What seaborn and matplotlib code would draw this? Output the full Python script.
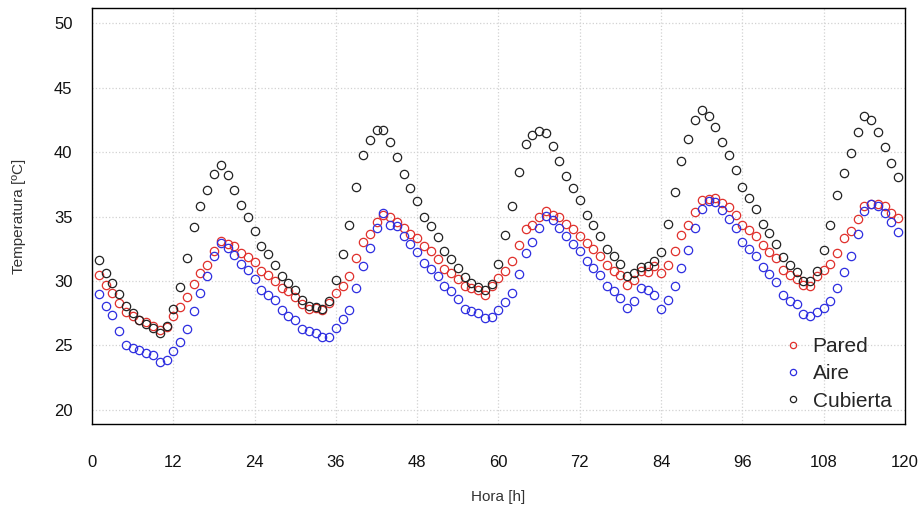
import numpy as np
import pandas as pd
import matplotlib
matplotlib.use("Agg")
import matplotlib.pyplot as plt
import seaborn as sns

hours = list(range(1, 120))

pared = [30.49, 29.71, 29.1, 28.3, 27.63, 27.25, 27.0, 26.8, 26.5, 26.2,
         26.4, 27.3, 28.0, 28.8, 29.79, 30.6, 31.27, 32.35, 33.13, 32.9,
         32.75, 32.2, 31.87, 31.47, 30.78, 30.44, 29.98, 29.46, 29.2, 28.8,
         28.23, 27.82, 27.9, 27.72, 28.3, 29.07, 29.6, 30.36, 31.78, 33.07,
         33.64, 34.57, 35.14, 34.96, 34.55, 34.1, 33.67, 33.34, 32.69, 32.3,
         31.73, 30.93, 30.62, 30.15, 29.59, 29.46, 29.33, 28.94, 29.59, 30.23,
         30.75, 31.53, 32.82, 34.03, 34.37, 35.01, 35.4, 35.14, 34.96, 34.44,
         34.03, 33.5, 32.92, 32.48, 31.95, 31.21, 30.75, 30.44, 29.72, 30.05,
         30.8, 30.67, 31.14, 30.62, 31.27, 32.3, 33.55, 34.33, 35.34, 36.32,
         36.37, 36.45, 36.06, 35.73, 35.16, 34.33, 34.0, 33.47, 32.77, 32.26,
         31.78, 30.88, 30.49, 30.15, 29.71, 29.64, 30.41, 30.88, 31.32, 32.17,
         33.34, 33.91, 34.84, 35.86, 36.01, 36.01, 35.8, 35.28, 34.89]

aire = [29.0, 28.1, 27.4, 26.16, 25.05, 24.8, 24.65, 24.4, 24.27, 23.68,
        23.84, 24.54, 25.3, 26.26, 27.7, 29.1, 30.4, 31.96, 32.94, 32.6,
        32.04, 31.35, 30.88, 30.17, 29.32, 28.94, 28.5, 27.77, 27.26, 26.95,
        26.3, 26.1, 26.0, 25.65, 25.65, 26.34, 27.04, 27.77, 29.46, 31.2,
        32.6, 34.1, 35.27, 34.37, 34.24, 33.52, 32.9, 32.26, 31.38, 30.93,
        30.36, 29.64, 29.2, 28.6, 27.85, 27.69, 27.51, 27.12, 27.2, 27.72,
        28.34, 29.07, 30.54, 32.17, 33.07, 34.1, 35.06, 34.76, 34.1, 33.46,
        32.87, 32.35, 31.55, 31.0, 30.47, 29.59, 29.2, 28.68, 27.9, 28.47,
        29.46, 29.33, 28.94, 27.85, 28.5, 29.59, 31.0, 32.43, 34.1, 35.58,
        36.24, 36.1, 35.5, 34.82, 34.12, 33.03, 32.48, 31.96, 31.06, 30.55,
        29.92, 28.93, 28.47, 28.2, 27.46, 27.25, 27.56, 27.9, 28.49, 29.5,
        30.69, 31.98, 33.63, 35.45, 35.97, 35.84, 35.28, 34.58, 33.8]

cubierta = [31.66, 30.62, 29.84, 28.96, 28.1, 27.5, 27.0, 26.7, 26.35, 25.96,
            26.5, 27.82, 29.53, 31.76, 34.17, 35.8, 37.04, 38.31, 39.0, 38.2,
            37.1, 35.9, 34.94, 33.9, 32.75, 32.1, 31.27, 30.36, 29.84, 29.33,
            28.5, 28.1, 28.0, 27.85, 28.42, 30.05, 32.12, 34.37, 37.27, 39.77,
            40.98, 41.76, 41.76, 40.8, 39.6, 38.31, 37.2, 36.24, 34.95, 34.24,
            33.39, 32.3, 31.73, 31.0, 30.28, 29.84, 29.53, 29.28, 29.8, 31.35,
            33.55, 35.8, 38.49, 40.64, 41.32, 41.68, 41.5, 40.46, 39.35, 38.13,
            37.22, 36.27, 35.1, 34.35, 33.5, 32.48, 31.91, 31.31, 30.36, 30.62,
            31.06, 31.14, 31.58, 32.26, 34.43, 36.89, 39.35, 41.06, 42.54, 43.31,
            42.8, 41.94, 40.8, 39.77, 38.65, 37.28, 36.45, 35.62, 34.4, 33.72,
            32.9, 31.84, 31.22, 30.67, 29.97, 29.97, 30.8, 32.43, 34.37, 36.65,
            38.39, 39.94, 41.57, 42.79, 42.54, 41.57, 40.38, 39.16, 38.05]

series_names = ["Pared", "Aire", "Cubierta"]
series_colors = ["#e0302c", "#2e2ee0", "#222222"]
x_ticks = [0, 12, 24, 36, 48, 60, 72, 84, 96, 108, 120]
y_ticks = [20, 25, 30, 35, 40, 45, 50]

df = pd.DataFrame({
    "Hora": hours * 3,
    "Temperatura": pared + aire + cubierta,
    "Serie": ["Pared"] * len(pared) + ["Aire"] * len(aire) + ["Cubierta"] * len(cubierta),
})

sns.set_theme(style="white")
plt.rcParams["font.family"] = ["Liberation Sans", "DejaVu Sans"]

fig = plt.figure(figsize=(9.21, 5.14), dpi=100)
ax = fig.add_axes([0.0999, 0.175, 0.8827, 0.8095])

for name, col in zip(series_names, series_colors):
    sub = df[df["Serie"] == name]
    sns.lineplot(data=sub, x="Hora", y="Temperatura", ax=ax, color=col,
                 linestyle="", marker="o", markerfacecolor="none",
                 markeredgecolor=col, markeredgewidth=0.9, markersize=6,
                 label=name, errorbar=None)

ax.set_xlim(0, 120)
ax.set_ylim(18.9, 51.2)
ax.set_xticks(x_ticks)
ax.set_yticks(y_ticks)
ax.grid(True, color="#d2d2d2", linestyle=":", linewidth=0.9)
for s in ax.spines.values():
    s.set_visible(True)
    s.set_color("black")
    s.set_linewidth(1.0)
ax.tick_params(axis="x", length=0, pad=22, labelsize=12, labelcolor="#111111")
ax.tick_params(axis="y", length=0, pad=14, labelsize=12, labelcolor="#111111")
ax.set_xlabel("Hora [h]", fontsize=11, color="#333333", labelpad=15)
ax.set_ylabel("Temperatura [ºC]", fontsize=11, color="#333333", labelpad=20)

leg = ax.legend(loc="lower right", frameon=False, fontsize=15,
                markerscale=0.75, handlelength=0.9, handletextpad=0.5,
                labelspacing=0.4, borderaxespad=0.25)

fig.savefig("out.png", dpi=100)
